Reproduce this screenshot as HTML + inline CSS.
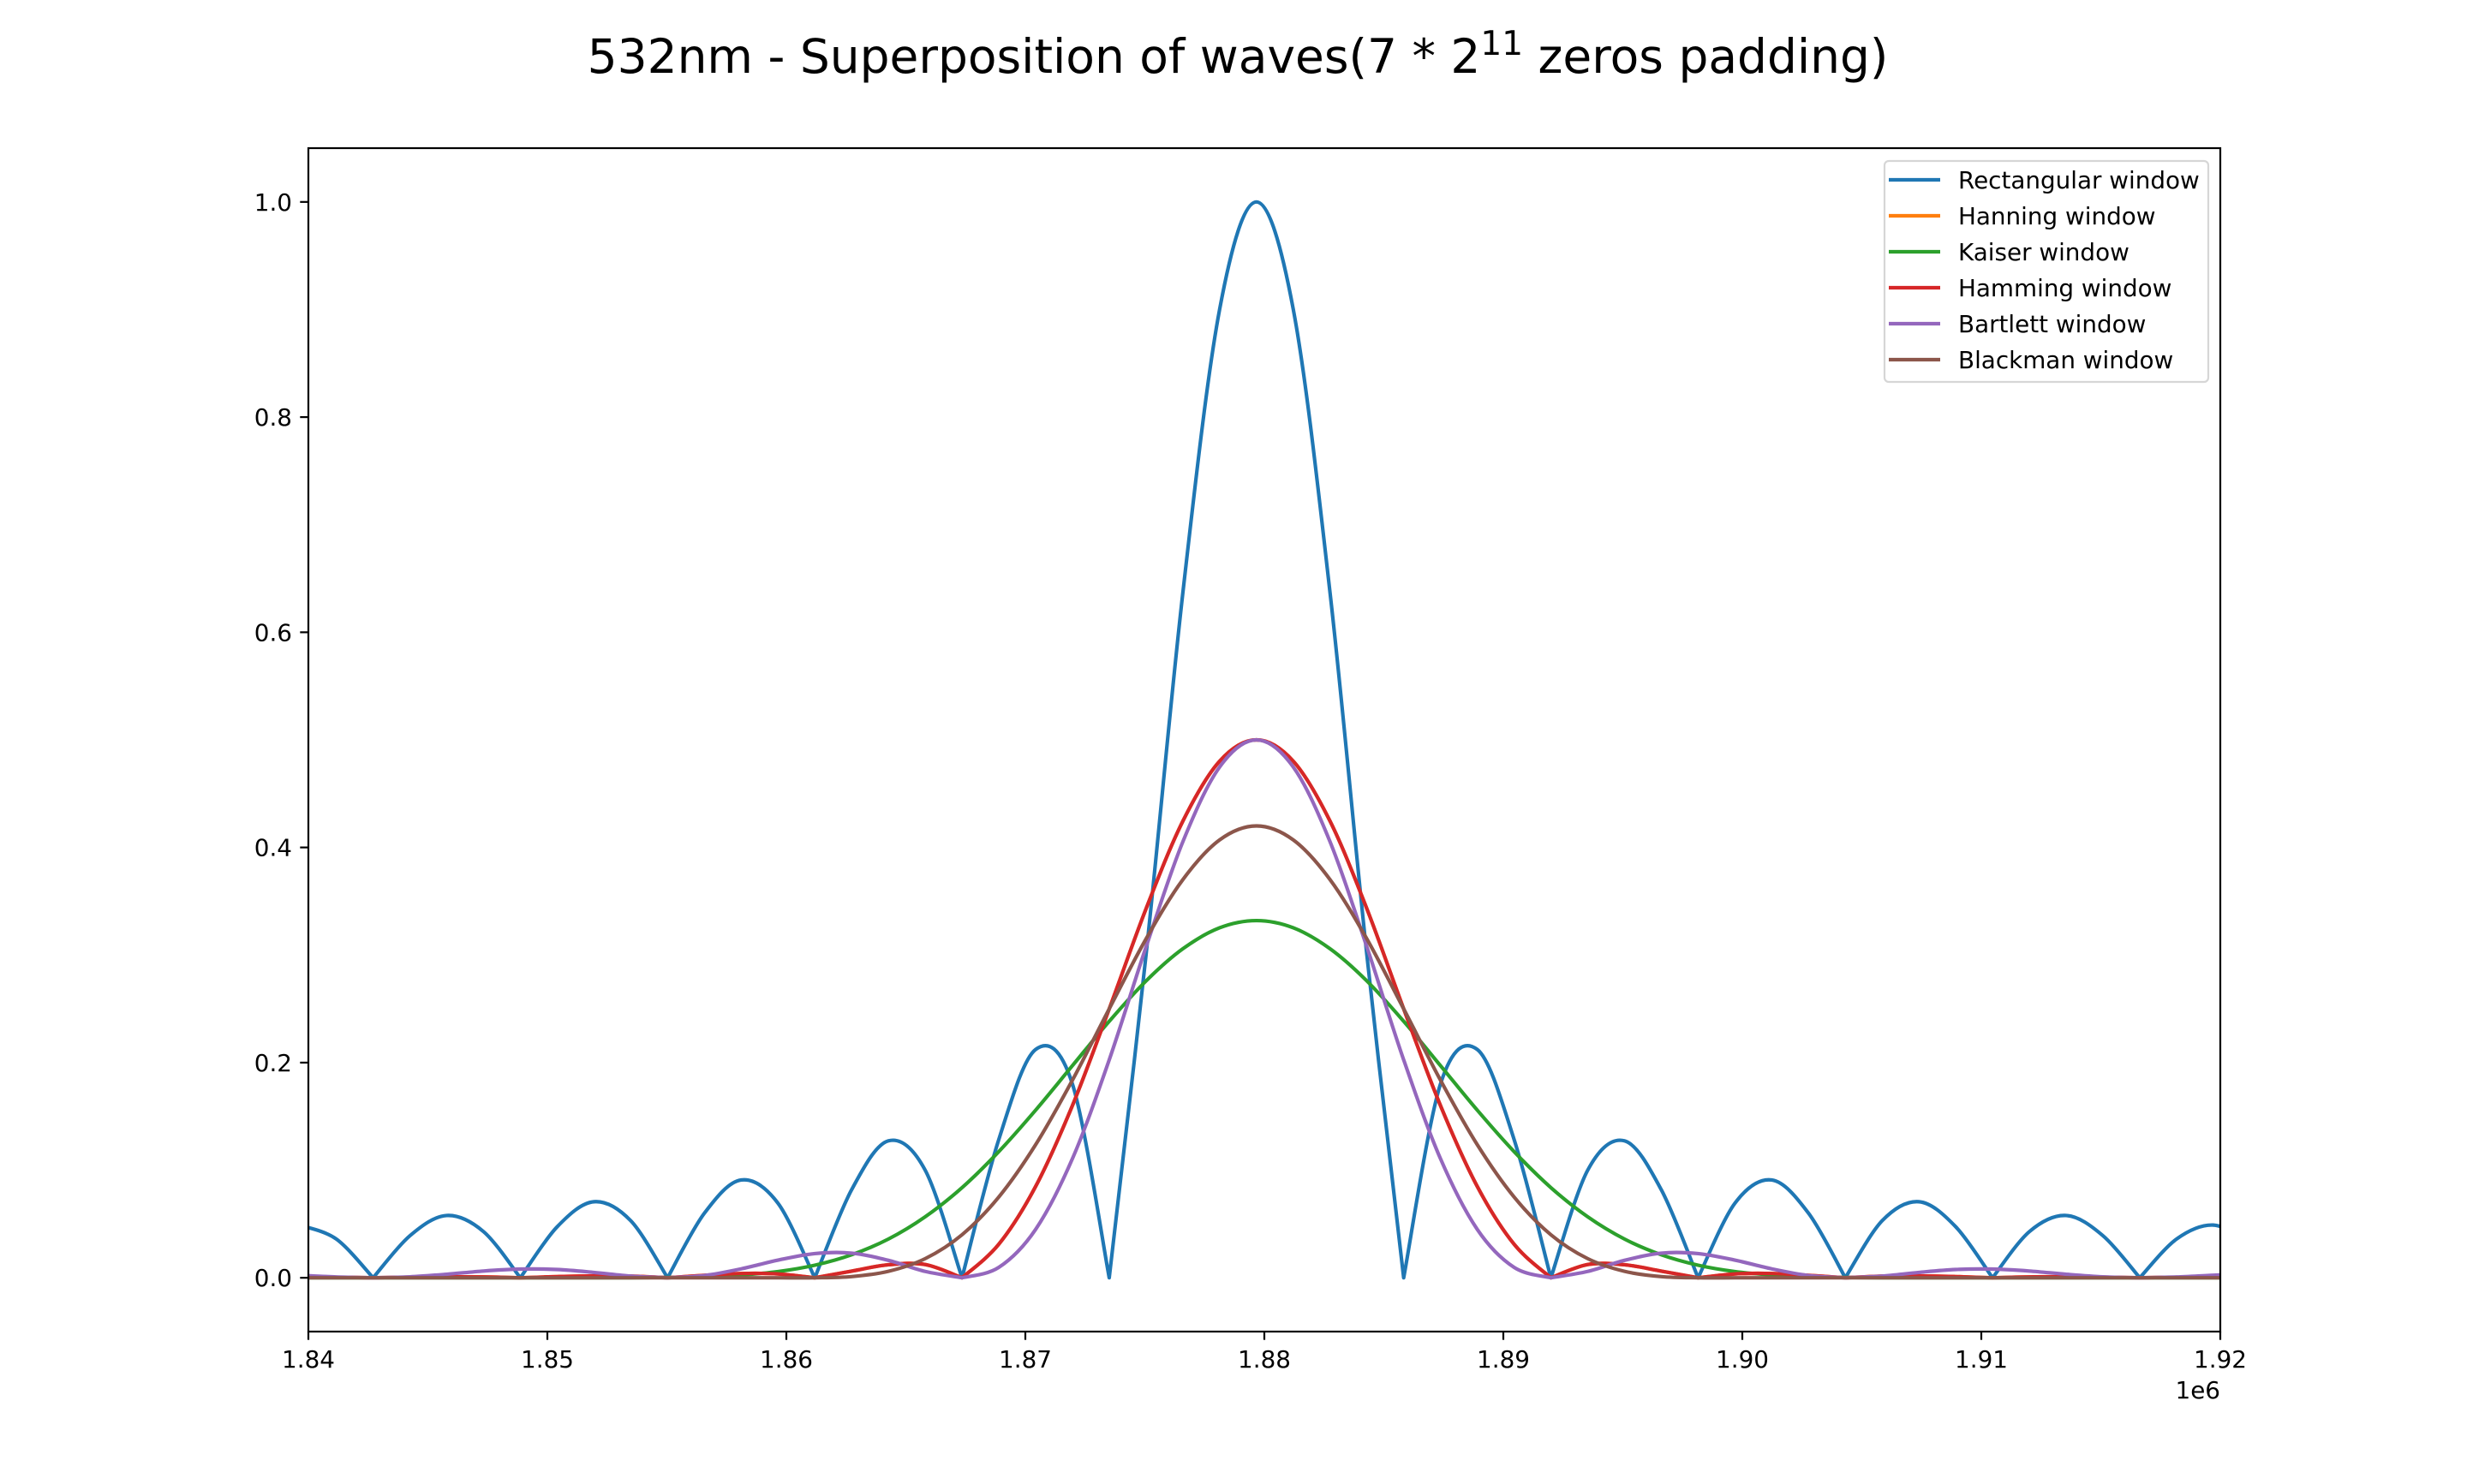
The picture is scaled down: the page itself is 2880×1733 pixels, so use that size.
<!DOCTYPE html>
<html><head><meta charset="utf-8"><style>
html,body{margin:0;padding:0;background:#fff;}
svg text{font-family:"DejaVu Sans","Liberation Sans",sans-serif;fill:#000;}
</style></head><body>
<svg id="chart" width="2880" height="1728" viewBox="0 0 2880 1728" xmlns="http://www.w3.org/2000/svg">
<rect x="0" y="0" width="2880" height="1728" fill="#fff"/>
<text x="1445" y="85" text-anchor="middle" font-size="55">532nm - Superposition of waves(7 * 2<tspan dy="-21" font-size="39">11</tspan><tspan dy="21"> zeros padding)</tspan></text>
<defs><clipPath id="plotclip"><rect x="360" y="173" width="2232" height="1382"/></clipPath></defs>
<g id="series" clip-path="url(#plotclip)"></g>
<g id="axes"></g>
<g id="legend"></g>
</svg>
<script>
const freqs = [1.83963,1.84117,1.84271,1.84425,1.84579,1.84733,1.84887,1.85041,1.85195,1.85349,1.85503,1.85657,1.85811,1.85965,1.86119,1.86273,1.86427,1.86581,1.86735,1.86889,1.87043,1.87197,1.87351,1.87505,1.87659,1.87813,1.87967,1.88121,1.88275,1.88429,1.88583,1.88737,1.88891,1.89045,1.89199,1.89353,1.89507,1.89661,1.89815,1.89969,1.90123,1.90277,1.90431,1.90585,1.90739,1.90893,1.91047,1.91201,1.91355,1.91509,1.91663,1.91817,1.91971,1.92125];
const rectangular = [.0490,.0360,0,.0391,.0579,.0429,0,.0474,.0707,.0530,0,.0600,.0909,.0693,0,.0818,.1273,.1000,0,.1286,.2122,.1801,0,.3001,.6366,.9003,1,.9003,.6366,.3001,0,.1801,.2122,.1286,0,.1000,.1273,.0818,0,.0693,.0909,.0600,0,.0530,.0707,.0474,0,.0429,.0579,.0391,0,.0360,.0490,.0333];
const hanning = [.0006,.0005,0,.0006,.0010,.0008,0,.0011,.0018,.0016,0,.0023,.0040,.0036,0,.0062,.0121,.0123,0,.0312,.0849,.1601,.25,.3430,.4244,.4802,.5,.4802,.4244,.3430,.25,.1601,.0849,.0312,0,.0123,.0121,.0062,0,.0036,.0040,.0023,0,.0016,.0018,.0011,0,.0008,.0010,.0006,0,.0005,.0006,.0004];
const kaiser = [0,0,0,0,0,0,0,0,0,0,.0003,.0010,.0026,.0058,.0117,.0214,.0360,.0567,.0838,.1173,.1558,.1972,.2384,.2759,.3058,.3253,.332,.3253,.3058,.2759,.2384,.1972,.1558,.1173,.0838,.0567,.0360,.0214,.0117,.0058,.0026,.0010,.0003,0,0,0,0,0,0,0,0,0,0,0];
const hamming = [.0006,.0005,0,.0006,.0010,.0008,0,.0011,.0018,.0016,0,.0023,.0040,.0036,0,.0062,.0121,.0123,0,.0312,.0849,.1601,.25,.3430,.4244,.4802,.5,.4802,.4244,.3430,.25,.1601,.0849,.0312,0,.0123,.0121,.0062,0,.0036,.0040,.0023,0,.0016,.0018,.0011,0,.0008,.0010,.0006,0,.0005,.0006,.0004];
const bartlett = [.0024,.0008,0,.0009,.0033,.0063,.0081,.0077,.0050,.0016,0,.0021,.0083,.0164,.0225,.0229,.0162,.0059,0,.0097,.0450,.1107,.2026,.3075,.4053,.4748,.5,.4748,.4053,.3075,.2026,.1107,.0450,.0097,0,.0059,.0162,.0229,.0225,.0164,.0083,.0021,0,.0016,.0050,.0077,.0081,.0063,.0033,.0009,0,.0008,.0024,.0038];
const blackman = [0,0,0,0,0,0,0,0,0,0,0,0,0,0,0,.0011,.0060,.0178,.04,.0751,.1237,.1837,.25,.3150,.3701,.4070,.42,.4070,.3701,.3150,.25,.1837,.1237,.0751,.04,.0178,.0060,.0011,0,0,0,0,0,0,0,0,0,0,0,0,0,0,0,0];
const seriesNames = ["Rectangular window","Hanning window","Kaiser window","Hamming window","Bartlett window","Blackman window"];
const xTicks = [1.84,1.85,1.86,1.87,1.88,1.89,1.90,1.91,1.92];
const xTickLabels = ["1.84","1.85","1.86","1.87","1.88","1.89","1.90","1.91","1.92"];
const yTicks = [0,0.2,0.4,0.6,0.8,1.0];
const yTickLabels = ["0.0","0.2","0.4","0.6","0.8","1.0"];

const NS="http://www.w3.org/2000/svg";
const L=360,R=2592,T=173,B=1555;
const XMIN=1.84,XMAX=1.92,YMIN=-0.05,YMAX=1.05;
const xs=v=>L+(v-XMIN)/(XMAX-XMIN)*(R-L);
const ys=v=>B-(v-YMIN)/(YMAX-YMIN)*(B-T);
const colors=["#1f77b4","#ff7f0e","#2ca02c","#d62728","#9467bd","#8c564b"];
const allSeries=[rectangular,hanning,kaiser,hamming,bartlett,blackman];
const slugs=["rectangular","hanning","kaiser","hamming","bartlett","blackman"];
const sharpZeros=[true,true,false,true,true,false];
function mk(tag,attrs,parent){const e=document.createElementNS(NS,tag);for(const k in attrs)e.setAttribute(k,attrs[k]);parent.appendChild(e);return e;}

function smoothRun(P){
  let d="";
  for(let i=0;i<P.length-1;i++){
    const p0=P[Math.max(0,i-1)],p1=P[i],p2=P[i+1],p3=P[Math.min(P.length-1,i+2)];
    const c1=[p1[0]+(p2[0]-p0[0])/6,p1[1]+(p2[1]-p0[1])/6];
    const c2=[p2[0]-(p3[0]-p1[0])/6,p2[1]-(p3[1]-p1[1])/6];
    d+=" C"+c1[0].toFixed(2)+","+c1[1].toFixed(2)+" "+c2[0].toFixed(2)+","+c2[1].toFixed(2)+" "+p2[0].toFixed(2)+","+p2[1].toFixed(2);
  }
  return d;
}

const gS=document.getElementById('series');
allSeries.forEach((vals,si)=>{
  const P=vals.map((v,i)=>[xs(freqs[i]),ys(v)]);
  let d="M"+P[0][0].toFixed(2)+","+P[0][1].toFixed(2);
  let run=[P[0]];
  for(let i=1;i<P.length;i++){
    run.push(P[i]);
    if(sharpZeros[si] && vals[i]===0 && i<P.length-1){d+=smoothRun(run);run=[P[i]];}
  }
  d+=smoothRun(run);
  const pl=mk('path',{d:d,fill:"none",stroke:colors[si],"stroke-width":4.17,"stroke-linejoin":"round","stroke-linecap":"square"},gS);
  
  
});

const gA=document.getElementById('axes');
const frame=mk('rect',{x:L,y:T,width:R-L,height:B-T,fill:"none",stroke:"#000","stroke-width":2.2},gA);


xTicks.forEach((t,i)=>{
  const x=xs(t);
  const tk=mk('line',{x1:x,y1:B,x2:x,y2:B+9.7,stroke:"#000","stroke-width":2.2},gA);
  
  
  const tx=mk('text',{x:x,y:1597,"text-anchor":"middle","font-size":27.8},gA);
  tx.textContent=xTickLabels[i];
  
  
});
yTicks.forEach((t,i)=>{
  const y=ys(t);
  const tk=mk('line',{x1:L-9.7,y1:y,x2:L,y2:y,stroke:"#000","stroke-width":2.2},gA);
  
  
  const tx=mk('text',{x:341,y:y+10,"text-anchor":"end","font-size":27.8},gA);
  tx.textContent=yTickLabels[i];
  
  
});
const off=mk('text',{x:R,y:1633,"text-anchor":"end","font-size":27.8},gA);
off.textContent="1e6";



const gL=document.getElementById('legend');
const lb=mk('rect',{x:2200,y:188,width:378,height:258,rx:5,fill:"#fff","fill-opacity":0.8,stroke:"#d6d6d6","stroke-width":2.2},gL);


seriesNames.forEach((n,i)=>{
  const y=210+i*42;
  const ln=mk('line',{x1:2205,y1:y,x2:2265,y2:y,stroke:colors[i],"stroke-width":4.17},gL);
  
  
  const tx=mk('text',{x:2286,y:y+10,"font-size":27.8},gL);
  tx.textContent=n;
  
  
});
</script>
</body></html>
